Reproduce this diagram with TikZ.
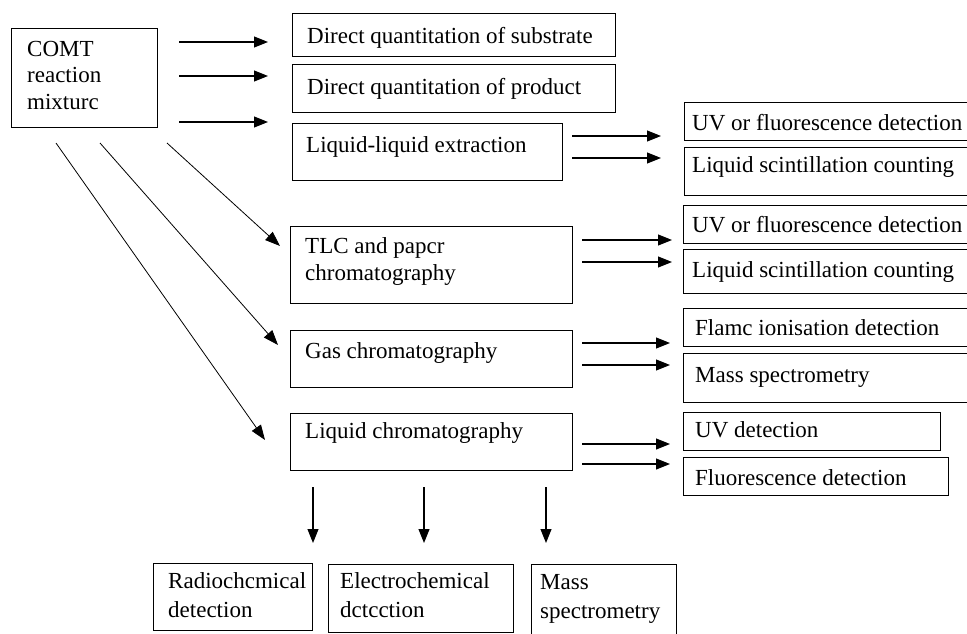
\documentclass[tikz,border=0pt]{standalone}
\usepackage{fontspec}
\setmainfont{Liberation Serif}
\usetikzlibrary{arrows.meta}
\begin{document}
\begin{tikzpicture}[x=1pt,y=-1pt,
  box/.style={draw, line width=1pt, inner sep=0pt, outer sep=0pt, anchor=north west},
  lbl/.style={inner sep=0pt, anchor=base west, font=\fontsize{23}{27}\selectfont},
  arr/.style={line width=1.1pt, -{Triangle[length=14pt,width=11pt]}},
  diag/.style={line width=0.8pt, -{Triangle[length=15pt,width=11pt]}}]
\useasboundingbox (0,0) rectangle (967,634);
\clip (0,0) rectangle (967,634);
% boxes
\node[box, minimum width=146pt, minimum height=98pt] (comt) at (11,29) {};
\node[box, minimum width=323pt, minimum height=43pt] (sub) at (292,14) {};
\node[box, minimum width=323pt, minimum height=47pt] (prod) at (292,65) {};
\node[box, minimum width=270pt, minimum height=57pt] (lle) at (292,123) {};
\node[box, minimum width=300pt, minimum height=38pt] (uv1) at (684,102) {};
\node[box, minimum width=300pt, minimum height=48pt] (lsc1) at (684,147) {};
\node[box, minimum width=300pt, minimum height=38pt] (uv2) at (683,205) {};
\node[box, minimum width=300pt, minimum height=44pt] (lsc2) at (683,249) {};
\node[box, minimum width=282pt, minimum height=77pt] (tlc) at (290,226) {};
\node[box, minimum width=282pt, minimum height=57pt] (gas) at (290,330) {};
\node[box, minimum width=282pt, minimum height=57pt] (lc) at (290,413) {};
\node[box, minimum width=300pt, minimum height=38pt] (flame) at (683,308) {};
\node[box, minimum width=300pt, minimum height=49pt] (ms) at (683,353) {};
\node[box, minimum width=257pt, minimum height=38pt] (uvd) at (683,412) {};
\node[box, minimum width=265pt, minimum height=38pt] (fld) at (683,457) {};
\node[box, minimum width=159pt, minimum height=67pt] (radio) at (153,563) {};
\node[box, minimum width=185pt, minimum height=68pt] (electro) at (328,564) {};
\node[box, minimum width=145pt, minimum height=80pt] (mass) at (531,564) {};
% texts
\node[lbl] (comt-t1) at (27,57) {COMT};
\node[lbl] (comt-t2) at (27,83) {reaction};
\node[lbl] (comt-t3) at (27,110) {mixturc};
\node[lbl] (sub-t) at (307,44) {Direct quantitation of substrate};
\node[lbl] (prod-t) at (307,95) {Direct quantitation of product};
\node[lbl] (lle-t) at (306,152) {Liquid-liquid extraction};
\node[lbl] (uv1-t) at (692,130) {UV or fluorescence detection};
\node[lbl] (lsc1-t) at (692,172) {Liquid scintillation counting};
\node[lbl] (uv2-t) at (692,232) {UV or fluorescence detection};
\node[lbl] (lsc2-t) at (692,277) {Liquid scintillation counting};
\node[lbl] (tlc-t1) at (305,253) {TLC and papcr};
\node[lbl] (tlc-t2) at (305,280) {chromatography};
\node[lbl] (gas-t) at (305,358) {Gas chromatography};
\node[lbl] (lc-t) at (305,438) {Liquid chromatography};
\node[lbl] (flame-t) at (695,335) {Flamc ionisation detection};
\node[lbl] (ms-t) at (695,382) {Mass spectrometry};
\node[lbl] (uvd-t) at (695,437) {UV detection};
\node[lbl] (fld-t) at (695,485) {Fluorescence detection};
\node[lbl] (radio-t1) at (168,588) {Radiochcmical};
\node[lbl] (radio-t2) at (168,617) {detection};
\node[lbl] (electro-t1) at (340,588) {Electrochemical};
\node[lbl] (electro-t2) at (340,617) {dctcction};
\node[lbl] (mass-t1) at (540,589) {Mass};
\node[lbl] (mass-t2) at (540,618) {spectrometry};
% horizontal arrows
\draw[arr, shorten <=22pt, shorten >=24pt] (comt.east |- 0,42) -- (sub.west |- 0,42);
\draw[arr, shorten <=22pt, shorten >=24pt] (comt.east |- 0,76) -- (prod.west |- 0,76);
\draw[arr, shorten <=22pt, shorten >=24pt] (comt.east |- 0,122) -- (lle.west |- 0,122);
\draw[arr, shorten <=10pt, shorten >=23pt] (lle.east |- 0,136) -- (uv1.west |- 0,136);
\draw[arr, shorten <=10pt, shorten >=23pt] (lle.east |- 0,158) -- (lsc1.west |- 0,158);
\draw[arr, shorten <=10pt, shorten >=11pt] (tlc.east |- 0,240) -- (uv2.west |- 0,240);
\draw[arr, shorten <=10pt, shorten >=11pt] (tlc.east |- 0,262) -- (lsc2.west |- 0,262);
\draw[arr, shorten <=10pt, shorten >=13pt] (gas.east |- 0,343) -- (flame.west |- 0,343);
\draw[arr, shorten <=10pt, shorten >=13pt] (gas.east |- 0,365) -- (ms.west |- 0,365);
\draw[arr, shorten <=10pt, shorten >=13pt] (lc.east |- 0,444) -- (uvd.west |- 0,444);
\draw[arr, shorten <=10pt, shorten >=13pt] (lc.east |- 0,464) -- (fld.west |- 0,464);
% diagonal arrows
\draw[diag] ([shift={(10,16)}]comt.south east) -- ([shift={(-10,20)}]tlc.north west);
\draw[diag] ([shift={(89,16)}]comt.south west) -- ([shift={(-12,15)}]gas.north west);
\draw[diag] ([shift={(45,16)}]comt.south west) -- ([shift={(-25,27)}]lc.north west);
% vertical arrows
\draw[arr, shorten <=17pt, shorten >=20pt] (lc.south -| 313,0) -- (radio.north -| 313,0);
\draw[arr, shorten <=17pt, shorten >=21pt] (lc.south -| 424,0) -- (electro.north -| 424,0);
\draw[arr, shorten <=17pt, shorten >=21pt] (lc.south -| 546,0) -- (mass.north -| 546,0);
\end{tikzpicture}
\end{document}
